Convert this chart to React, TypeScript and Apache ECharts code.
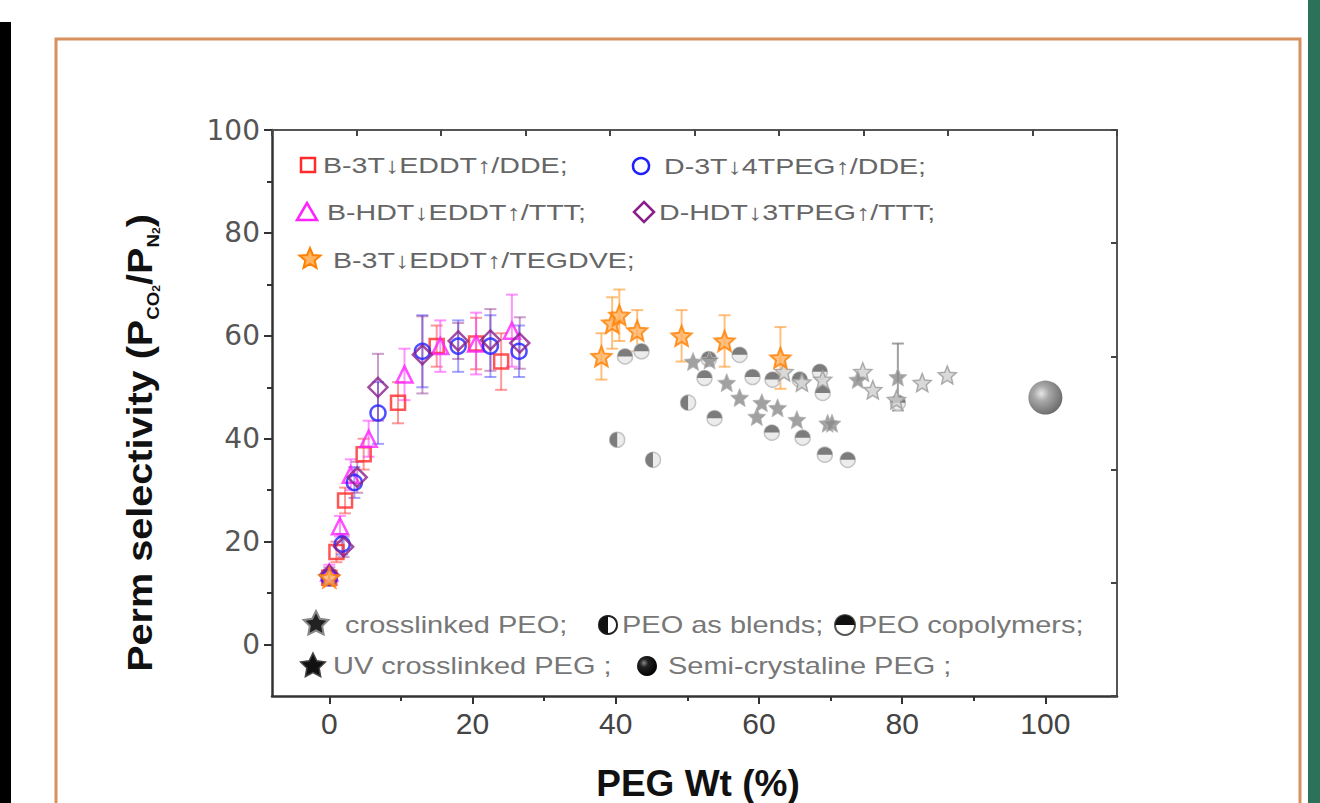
import React, { useEffect, useRef } from 'react';
import * as echarts from 'echarts';

// ---------- axis ticks ----------
const xTicks = [0, 20, 40, 60, 80, 100];
const xMinorTicks = [10, 30, 50, 70, 90];
const yTicks = [0, 20, 40, 60, 80, 100];
const yMinorTicks = [10, 30, 50, 70, 90];

// ---------- series (this work) ----------
const sqName = 'B-3T↓EDDT↑/DDE;';
const sqX = [0, 1, 2.2, 4.8, 9.6, 15, 20.5, 24];
const sqY = [13, 18, 28, 37, 47, 58, 58.5, 55];
const sqErr = [1.5, 2, 2.5, 3, 4, 4, 5, 5.5];

const triName = 'B-HDT↓EDDT↑/TTT;';
const triX = [0, 1.5, 3, 5.5, 10.5, 15.5, 20.5, 25.5];
const triY = [14, 23, 33, 40, 52.5, 58, 58.5, 61];
const triErr = [1.5, 2, 3, 3.5, 5, 5, 6, 7];

const cirName = 'D-3T↓4TPEG↑/DDE;';
const cirX = [0, 1.8, 3.5, 6.8, 13, 18, 22.5, 26.5];
const cirY = [13, 19.5, 31.5, 45, 57, 58, 58, 57];
const cirErr = [1.5, 2, 3, 6, 7, 5, 6, 5];

const diaName = 'D-HDT↓3TPEG↑/TTT;';
const diaX = [0, 2, 3.9, 6.8, 13, 18, 22.5, 26.6];
const diaY = [13.5, 19, 32.5, 50, 56.3, 59, 59.2, 58.6];
const diaErr = [1.5, 2, 3, 6.5, 7.5, 3.5, 6, 5];

const stName = 'B-3T↓EDDT↑/TEGDVE;';
const stX = [0, 38, 39.5, 40.5, 43, 49.2, 55.2, 63];
const stY = [13, 56, 62.5, 64, 61, 60, 59, 55.7];
const stErr = [1, 4.5, 5, 5, 4, 5, 5, 6];

// ---------- literature data (grey) ----------
const xlName = 'crosslinked PEO;';
const xlX = [63.5, 66, 68.9, 74.5, 75.9, 79.2, 82.8, 86.3];
const xlY = [53, 51, 51.5, 53, 49.5, 47.6, 50.9, 52.4];

const uvName = 'UV crosslinked PEG ;';
const uvX = [50.8, 53.1, 55.5, 57.3, 59.7, 60.4, 62.6, 65.3, 69.6, 70.2, 73.8, 79.4];
const uvY = [55, 55.3, 50.9, 48, 44.3, 47, 46, 43.7, 43, 43, 51.5, 52];
const uvErr = [0, 0, 0, 0, 0, 0, 0, 0, 0, 0, 0, 6.5];

const blName = 'PEO as blends;';
const blX = [40.2, 45.2, 50.1];
const blY = [39.8, 35.9, 47];

const coName = 'PEO copolymers;';
const coX = [41.3, 43.6, 52.4, 53, 53.8, 57.3, 59.1, 61.9, 61.8, 65.7, 66.1, 68.5, 68.9, 69.2, 72.4, 79.4];
const coY = [56, 57, 51.8, 55.5, 44, 56.3, 52, 51.5, 41.2, 51.5, 40.2, 53, 48.9, 36.9, 35.9, 47];

const scName = 'Semi-crystaline PEG ;';
const scX = [100];
const scY = [48];

// ---------- helpers ----------
const FONT = '"Liberation Sans", Arial, Helvetica, sans-serif';

function starPts(cx: number, cy: number, R: number, ratio = 0.45) {
  const pts: number[][] = [];
  for (let i = 0; i < 10; i++) {
    const r = i % 2 === 0 ? R : R * ratio;
    const a = -Math.PI / 2 + (i * Math.PI) / 5;
    pts.push([cx + Math.cos(a) * r, cy + Math.sin(a) * r]);
  }
  return pts;
}
const STAR_PATH =
  'path://M' +
  starPts(0, 0, 10)
    .map((p) => p[0].toFixed(3) + ',' + p[1].toFixed(3))
    .join('L') +
  'Z';

function pairs(xs: number[], ys: number[]) {
  return xs.map((x, i) => [x, ys[i]]);
}

function errorSeries(name: string, xs: number[], ys: number[], errs: number[], color: string) {
  return {
    type: 'custom',
    name: name + ' err',
    xAxisIndex: 0,
    yAxisIndex: 0,
    z: 2,
    silent: true,
    data: xs.map((x, i) => [x, ys[i] - errs[i], ys[i] + errs[i]]),
    encode: { x: 0, y: [1, 2] },
    renderItem: (params: any, api: any) => {
      const x = api.value(0);
      const lo = api.coord([x, api.value(1)]);
      const hi = api.coord([x, api.value(2)]);
      if (Math.abs(lo[1] - hi[1]) < 1) return null;
      const w = 6;
      const st = { stroke: color, lineWidth: 2 };
      return {
        type: 'group',
        children: [
          { type: 'line', shape: { x1: lo[0], y1: lo[1], x2: hi[0], y2: hi[1] }, style: st },
          { type: 'line', shape: { x1: lo[0] - w, y1: lo[1], x2: lo[0] + w, y2: lo[1] }, style: st },
          { type: 'line', shape: { x1: hi[0] - w, y1: hi[1], x2: hi[0] + w, y2: hi[1] }, style: st },
        ],
      };
    },
  };
}

function openScatter(name: string, xs: number[], ys: number[], symbol: string, size: any, color: string) {
  return {
    type: 'scatter',
    name,
    xAxisIndex: 0,
    yAxisIndex: 0,
    z: 4,
    data: pairs(xs, ys),
    symbol,
    symbolSize: size,
    itemStyle: { color: 'rgba(255,255,255,0)', borderColor: color, borderWidth: 2.5 },
  };
}

function glyphSeries(name: string, xs: number[], ys: number[], kind: 'blend' | 'copo' | 'sphere') {
  return {
    type: 'custom',
    name,
    xAxisIndex: 0,
    yAxisIndex: 0,
    z: 3,
    data: pairs(xs, ys),
    encode: { x: 0, y: 1 },
    renderItem: (params: any, api: any) => {
      const p = api.coord([api.value(0), api.value(1)]);
      if (kind === 'sphere') {
        return {
          type: 'circle',
          shape: { cx: p[0], cy: p[1], r: 17 },
          style: {
            fill: {
              type: 'radial',
              x: 0.38,
              y: 0.38,
              r: 0.65,
              colorStops: [
                { offset: 0, color: '#e6e6e6' },
                { offset: 0.35, color: '#a8a8a8' },
                { offset: 1, color: '#6c6c6c' },
              ],
            },
          },
        };
      }
      const r = 7.5;
      const sa = kind === 'blend' ? Math.PI / 2 : Math.PI;
      const ea = kind === 'blend' ? (Math.PI * 3) / 2 : Math.PI * 2;
      return {
        type: 'group',
        children: [
          { type: 'circle', shape: { cx: p[0], cy: p[1], r }, style: { fill: '#ececec', stroke: '#c4c4c4', lineWidth: 1.5 } },
          { type: 'sector', shape: { cx: p[0], cy: p[1], r0: 0, r, startAngle: sa, endAngle: ea }, style: { fill: '#7c7c7c' } },
        ],
      };
    },
  };
}

// ---------- legend graphics ----------
function legendText(x: number, y: number, text: string, fontSize: number, color: string, scaleX = 1) {
  return {
    type: 'text',
    x,
    y,
    scaleX,
    style: { text, fontSize, fontFamily: FONT, fill: color, align: 'left', verticalAlign: 'middle' },
    z: 10,
  };
}

function buildGraphic() {
  const g: any[] = [];
  // page decorations
  g.push({ type: 'rect', shape: { x: 0, y: 22, width: 11, height: 790 }, style: { fill: '#000' }, z: 0 });
  g.push({ type: 'rect', shape: { x: 1308, y: 0, width: 12, height: 803 }, style: { fill: '#2b7259' }, z: 0 });
  g.push({ type: 'rect', shape: { x: 56, y: 39, width: 1244, height: 800 }, style: { fill: 'none', stroke: '#d8905c', lineWidth: 3 }, z: 0 });

  // top legend markers
  g.push({ type: 'rect', shape: { x: 301, y: 158, width: 14, height: 14 }, style: { fill: 'none', stroke: '#ff2a2a', lineWidth: 2.5 }, z: 10 });
  g.push({ type: 'polygon', shape: { points: [[307, 203], [297, 220], [317, 220]] }, style: { fill: 'none', stroke: '#ff22ff', lineWidth: 2.5 }, z: 10 });
  g.push({ type: 'polygon', shape: { points: starPts(310, 259, 11) }, style: { fill: '#ffb260', stroke: '#ff8000', lineWidth: 2 }, z: 10 });
  g.push({ type: 'circle', shape: { cx: 641, cy: 166, r: 8 }, style: { fill: 'none', stroke: '#2020ff', lineWidth: 2.5 }, z: 10 });
  g.push({ type: 'polygon', shape: { points: [[644, 202], [654, 212], [644, 222], [634, 212]] }, style: { fill: 'none', stroke: '#8a1f8a', lineWidth: 2.5 }, z: 10 });

  g.push(legendText(323, 165, sqName, 22, '#666', 1.3));
  g.push(legendText(327, 212, triName, 22, '#666', 1.3));
  g.push(legendText(333, 260, stName, 22, '#666', 1.3));
  g.push(legendText(664, 166, cirName, 22, '#666', 1.3));
  g.push(legendText(659, 212, diaName, 22, '#666', 1.3));

  // bottom legend markers
  g.push({ type: 'polygon', shape: { points: starPts(316, 624, 13, 0.5) }, style: { fill: '#222', stroke: '#888', lineWidth: 2 }, z: 10 });
  g.push({ type: 'circle', shape: { cx: 608, cy: 625, r: 9 }, style: { fill: '#fff', stroke: '#222', lineWidth: 2 }, z: 10 });
  g.push({ type: 'sector', shape: { cx: 608, cy: 625, r0: 0, r: 9, startAngle: Math.PI / 2, endAngle: (Math.PI * 3) / 2 }, style: { fill: '#111' }, z: 10 });
  g.push({ type: 'circle', shape: { cx: 845, cy: 625, r: 10 }, style: { fill: '#fff', stroke: '#555', lineWidth: 2 }, z: 10 });
  g.push({ type: 'sector', shape: { cx: 845, cy: 625, r0: 0, r: 10, startAngle: Math.PI, endAngle: Math.PI * 2 }, style: { fill: '#111' }, z: 10 });
  g.push({ type: 'polygon', shape: { points: starPts(313, 666, 13, 0.5) }, style: { fill: '#111', stroke: '#444', lineWidth: 1.5 }, z: 10 });
  g.push({
    type: 'circle',
    shape: { cx: 647, cy: 666, r: 10 },
    style: {
      fill: { type: 'radial', x: 0.35, y: 0.35, r: 0.7, colorStops: [{ offset: 0, color: '#888' }, { offset: 0.3, color: '#222' }, { offset: 1, color: '#000' }] },
    },
    z: 10,
  });

  g.push(legendText(345, 625, xlName, 23, '#777', 1.26));
  g.push(legendText(622, 625, blName, 23, '#777', 1.26));
  g.push(legendText(858, 625, coName, 23, '#777', 1.26));
  g.push(legendText(333, 666, uvName, 23, '#777', 1.26));
  g.push(legendText(668, 666, scName, 23, '#777', 1.26));

  // axis titles
  g.push({
    type: 'text',
    x: 140,
    y: 443,
    rotation: Math.PI / 2,
    scaleX: 1.1,
    style: {
      text: '{b|Perm selectivity (P}{s|CO}{ss|2}{b|/P}{s|N}{ss|2}{b|)}',
      align: 'center',
      verticalAlign: 'middle',
      fill: '#111',
      rich: {
        b: { fontSize: 36, fontWeight: 'bold', fontFamily: FONT, fill: '#111', verticalAlign: 'middle', lineHeight: 44 },
        s: { fontSize: 17, fontWeight: 'bold', fontFamily: FONT, fill: '#111', verticalAlign: 'bottom', lineHeight: 44 },
        ss: { fontSize: 11, fontWeight: 'bold', fontFamily: FONT, fill: '#111', verticalAlign: 'bottom', lineHeight: 40 },
      },
    },
    z: 10,
  });
  g.push({
    type: 'text',
    x: 698,
    y: 783,
    style: { text: 'PEG Wt (%)', fontSize: 37, fontWeight: 'bold', fontFamily: FONT, fill: '#111', align: 'center', verticalAlign: 'middle' },
    z: 10,
  });
  return g;
}

export default function App() {
  const ref = useRef<HTMLDivElement>(null);
  useEffect(() => {
    if (!ref.current) return;
    const chart = echarts.init(ref.current, undefined, { renderer: 'svg' });
    const option: any = {
      animation: false,
      backgroundColor: '#fff',
      grid: { left: 272, top: 130, right: 203, bottom: 107, containLabel: false },
      xAxis: [
        {
          type: 'value',
          min: -8,
          max: 110,
          position: 'bottom',
          axisLine: { show: true, onZero: false, lineStyle: { color: '#333', width: 2.5 } },
          axisTick: { show: true, inside: false, length: 8, customValues: xTicks, lineStyle: { color: '#333', width: 2 } },
          axisLabel: { show: true, customValues: xTicks, fontFamily: FONT, fontSize: 30, color: '#444', margin: 12 },
          splitLine: { show: false },
        },
        {
          type: 'value',
          min: -8,
          max: 110,
          position: 'bottom',
          axisLine: { show: false, onZero: false },
          axisTick: { show: true, inside: false, length: 5, customValues: xMinorTicks, lineStyle: { color: '#333', width: 2 } },
          axisLabel: { show: false },
          splitLine: { show: false },
        },
        {
          type: 'value',
          min: 0,
          max: 10,
          interval: 1,
          position: 'top',
          axisLine: { show: true, onZero: false, lineStyle: { color: '#555', width: 2 } },
          axisTick: { show: true, inside: true, length: 6, lineStyle: { color: '#444', width: 2 } },
          axisLabel: { show: false },
          splitLine: { show: false },
        },
      ],
      yAxis: [
        {
          type: 'value',
          min: -10,
          max: 100,
          position: 'left',
          axisLine: { show: true, onZero: false, lineStyle: { color: '#333', width: 2.5 } },
          axisTick: { show: true, inside: false, length: 8, customValues: yTicks, lineStyle: { color: '#333', width: 2 } },
          axisLabel: { show: true, customValues: yTicks, fontFamily: '"DejaVu Sans", sans-serif', fontSize: 28, color: '#555', margin: 12 },
          splitLine: { show: false },
        },
        {
          type: 'value',
          min: -10,
          max: 100,
          position: 'left',
          axisLine: { show: false, onZero: false },
          axisTick: { show: true, inside: false, length: 5, customValues: yMinorTicks, lineStyle: { color: '#333', width: 2 } },
          axisLabel: { show: false },
          splitLine: { show: false },
        },
        {
          type: 'value',
          min: 0,
          max: 5,
          interval: 1,
          position: 'right',
          axisLine: { show: true, onZero: false, lineStyle: { color: '#555', width: 2 } },
          axisTick: { show: true, inside: true, length: 6, lineStyle: { color: '#444', width: 2 } },
          axisLabel: { show: false },
          splitLine: { show: false },
        },
      ],
      graphic: buildGraphic(),
      series: [
        errorSeries(sqName, sqX, sqY, sqErr, 'rgba(255,70,70,0.55)'),
        errorSeries(triName, triX, triY, triErr, 'rgba(255,60,255,0.55)'),
        errorSeries(cirName, cirX, cirY, cirErr, 'rgba(70,70,255,0.5)'),
        errorSeries(diaName, diaX, diaY, diaErr, 'rgba(140,40,140,0.45)'),
        errorSeries(stName, stX, stY, stErr, 'rgba(255,150,40,0.6)'),
        errorSeries(uvName, uvX, uvY, uvErr, 'rgba(120,120,120,0.7)'),
        glyphSeries(blName, blX, blY, 'blend'),
        glyphSeries(coName, coX, coY, 'copo'),
        glyphSeries(scName, scX, scY, 'sphere'),
        {
          type: 'scatter',
          name: xlName,
          xAxisIndex: 0,
          yAxisIndex: 0,
          z: 3,
          data: pairs(xlX, xlY),
          symbol: STAR_PATH,
          symbolSize: 18,
          itemStyle: { color: '#d0d0d0', borderColor: '#9a9a9a', borderWidth: 1.5 },
        },
        {
          type: 'scatter',
          name: uvName,
          xAxisIndex: 0,
          yAxisIndex: 0,
          z: 3,
          data: pairs(uvX, uvY),
          symbol: STAR_PATH,
          symbolSize: 18,
          itemStyle: { color: '#8a8a8a', borderColor: '#b4b4b4', borderWidth: 1 },
        },
        openScatter(sqName, sqX, sqY, 'rect', 14, '#ff2a2a'),
        openScatter(triName, triX, triY, 'triangle', 16, '#ff22ff'),
        openScatter(cirName, cirX, cirY, 'circle', 15, '#2020ff'),
        openScatter(diaName, diaX, diaY, 'diamond', [19, 19], '#8a1f8a'),
        {
          type: 'scatter',
          name: stName,
          xAxisIndex: 0,
          yAxisIndex: 0,
          z: 5,
          data: pairs(stX, stY),
          symbol: STAR_PATH,
          symbolSize: 20,
          itemStyle: { color: '#ffb060', borderColor: '#ff8000', borderWidth: 2 },
        },
      ],
    };
    chart.setOption(option);
    return () => chart.dispose();
  }, []);
  return <div ref={ref} style={{ position: 'absolute', left: 0, top: 0, width: 1320, height: 803 }} />;
}
